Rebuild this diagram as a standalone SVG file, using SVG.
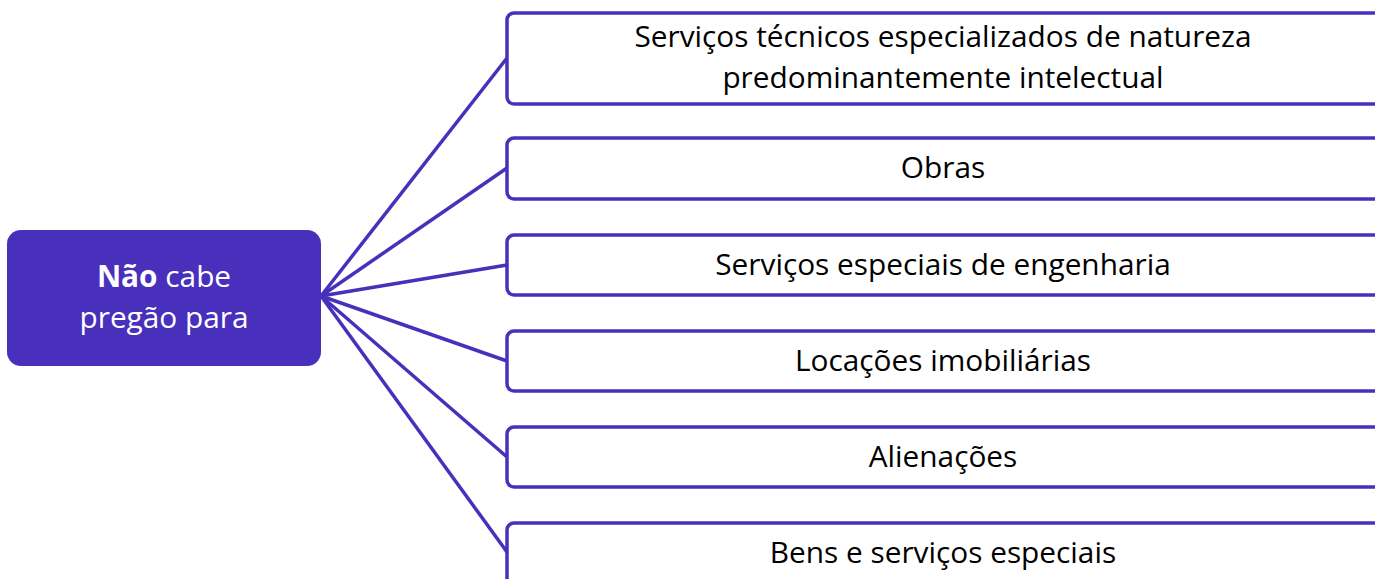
<svg xmlns="http://www.w3.org/2000/svg" width="1375" height="579" viewBox="0 0 1375 579">
<style>
.box{fill:#ffffff;stroke:#4830BC;stroke-width:3.5}
.hub{fill:#4830BC}
.edge{stroke:#4830BC;stroke-width:3.5;fill:none}
.t{font-family:"Open Sans","Liberation Sans",sans-serif;font-size:29.8px;fill:#000;text-anchor:middle}
.w{font-family:"Open Sans","Liberation Sans",sans-serif;font-size:29.8px;fill:#fff;text-anchor:middle}
</style>
<rect width="1375" height="579" fill="#fff"/>
<g id="connectors">
<line class="edge" x1="321" y1="296" x2="507" y2="58"/>
<line class="edge" x1="321" y1="296" x2="507" y2="168"/>
<line class="edge" x1="321" y1="296" x2="507" y2="265"/>
<line class="edge" x1="321" y1="296" x2="507" y2="361"/>
<line class="edge" x1="321" y1="296" x2="507" y2="457"/>
<line class="edge" x1="321" y1="296" x2="507" y2="552"/>
</g>
<g id="hub">
<rect class="hub" x="7" y="230" width="314" height="136" rx="14"/>
<text class="w" x="164" y="287"><tspan font-weight="bold">Não</tspan> cabe</text>
<text class="w" x="164" y="328">pregão para</text>
</g>
<g id="n1">
<rect class="box" x="507" y="13" width="880" height="91" rx="7"/>
<text class="t" x="943" y="47">Serviços técnicos especializados de natureza</text>
<text class="t" x="943" y="88">predominantemente intelectual</text>
</g>
<g id="n2">
<rect class="box" x="507" y="138" width="880" height="61" rx="7"/>
<text class="t" x="943" y="178">Obras</text>
</g>
<g id="n3">
<rect class="box" x="507" y="235" width="880" height="60" rx="7"/>
<text class="t" x="943" y="275">Serviços especiais de engenharia</text>
</g>
<g id="n4">
<rect class="box" x="507" y="331" width="880" height="60" rx="7"/>
<text class="t" x="943" y="371">Locações imobiliárias</text>
</g>
<g id="n5">
<rect class="box" x="507" y="427" width="880" height="60" rx="7"/>
<text class="t" x="943" y="467">Alienações</text>
</g>
<g id="n6">
<rect class="box" x="507" y="523" width="880" height="80" rx="7"/>
<text class="t" x="943" y="563">Bens e serviços especiais</text>
</g>
</svg>
